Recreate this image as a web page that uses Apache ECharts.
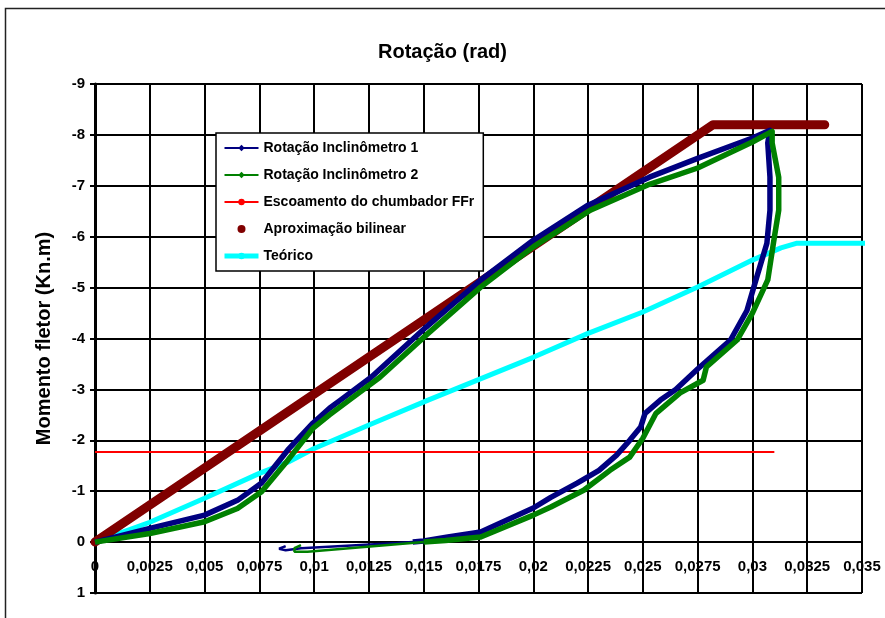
<!DOCTYPE html>
<html>
<head>
<meta charset="utf-8">
<script src="https://cdn.jsdelivr.net/npm/echarts@6/dist/echarts.min.js"></script>
<style>
  html, body { margin: 0; padding: 0; background: #fff; }
  #chart { width: 885px; height: 618px; }
</style>
</head>
<body>
<div id="chart"></div>
<script>
// Rotation (rad) vs bending moment (kN.m)
const xTickLabels = ['0', '0,0025', '0,005', '0,0075', '0,01', '0,0125', '0,015', '0,0175',
  '0,02', '0,0225', '0,025', '0,0275', '0,03', '0,0325', '0,035'];
const yTickLabels = ['-9', '-8', '-7', '-6', '-5', '-4', '-3', '-2', '-1', '0', '1'];

// Inclinometer 1: loading, unloading, final jump
const incl1 = [
  [0, 0], [0.0025, -0.27], [0.005, -0.53], [0.0065, -0.82], [0.0076, -1.16], [0.0088, -1.81],
  [0.00995, -2.34], [0.0107, -2.63], [0.0112, -2.79], [0.0126, -3.24], [0.0151, -4.22],
  [0.0176, -5.15], [0.0200, -5.93], [0.0225, -6.62], [0.0253, -7.17], [0.0275, -7.54],
  [0.0300, -7.94], [0.0308, -8.09],
  [0.0307, -7.84], [0.0308, -7.17], [0.0308, -6.52], [0.03066, -5.87], [0.0302, -5.21],
  [0.02975, -4.55], [0.0290, -3.97], [0.0275, -3.40], [0.0265, -3.0], [0.0258, -2.79],
  [0.0251, -2.53], [0.0249, -2.26], [0.0244, -2.0], [0.0238, -1.71], [0.0230, -1.41],
  [0.0220, -1.16], [0.0208, -0.88], [0.0200, -0.67], [0.0176, -0.2], [0.0161, -0.1],
  [0.0150, -0.02], [0.0145, 0.0]
];
const incl1Tail = [[0.0145, 0.0], [0.0138, 0.02], [0.0094, 0.12], [0.0087, 0.16], [0.0084, 0.13], [0.0087, 0.08]];

// Inclinometer 2
const incl2 = [
  [0, 0], [0.0025, -0.17], [0.005, -0.4], [0.0065, -0.66], [0.0076, -0.99], [0.0088, -1.61],
  [0.00995, -2.24], [0.0107, -2.5], [0.0116, -2.79], [0.013, -3.24], [0.0152, -4.1],
  [0.0176, -5.01], [0.0200, -5.8], [0.0226, -6.52], [0.0253, -7.03], [0.0275, -7.35],
  [0.0300, -7.86], [0.0309, -8.07],
  [0.0309, -7.84], [0.0312, -7.17], [0.0312, -6.52], [0.0310, -5.99], [0.0307, -5.15],
  [0.0300, -4.5], [0.0293, -3.97], [0.0279, -3.44], [0.02775, -3.18], [0.0267, -2.93],
  [0.0256, -2.53], [0.0250, -2.04], [0.0244, -1.67], [0.0235, -1.41], [0.0223, -1.02],
  [0.0208, -0.69], [0.0200, -0.53], [0.0176, -0.1], [0.0160, -0.03], [0.0150, 0.0]
];
const incl2Tail = [[0.0150, 0.0], [0.0097, 0.19], [0.0091, 0.19], [0.0091, 0.12], [0.0094, 0.06]];

// Anchor bolt yield moment
const yieldLine = [[0, -1.77], [0.0310, -1.77]];
// Bilinear approximation
const bilinear = [[0, 0], [0.0282, -8.2], [0.0333, -8.2]];
// Theoretical curve
const theory = [
  [0, 0], [0.0025, -0.39], [0.005, -0.86], [0.0075, -1.35], [0.0088, -1.57], [0.01, -1.84],
  [0.0125, -2.3], [0.0152, -2.79], [0.02, -3.63], [0.0225, -4.1], [0.025, -4.52],
  [0.0275, -5.01], [0.03, -5.54], [0.0313, -5.78], [0.032, -5.87], [0.0352, -5.87]
];

const names = ['Rotação Inclinômetro 1', 'Rotação Inclinômetro 2',
  'Escoamento do chumbador FFr', 'Aproximação bilinear', 'Teórico'];

const FONT = '"Liberation Sans", Arial, sans-serif';
const chart = echarts.init(document.getElementById('chart'), null, { renderer: 'canvas' });

chart.setOption({
  backgroundColor: '#ffffff',
  animation: false,
  title: {
    text: 'Rotação (rad)',
    left: 'center',
    top: 37,
    textStyle: { fontFamily: FONT, fontWeight: 'bold', fontSize: 20, color: '#000' }
  },
  graphic: [{
    type: 'rect',
    shape: { x: 5.5, y: 8.5, width: 1000, height: 1000 },
    style: { fill: 'none', stroke: '#222', lineWidth: 1.5 },
    silent: true,
    z: -1
  }],
  legend: {
    orient: 'vertical',
    left: 216,
    top: 133,
    padding: [7, 9, 7, 6],
    itemWidth: 34,
    itemHeight: 8,
    itemGap: 11,
    backgroundColor: '#fff',
    borderColor: '#000',
    borderWidth: 1.5,
    borderRadius: 0,
    textStyle: { fontFamily: FONT, fontWeight: 'bold', fontSize: 14, color: '#000', lineHeight: 16 },
    lineStyle: { width: 2 },
    data: [
      { name: names[0] },
      { name: names[1] },
      { name: names[2] },
      { name: names[3], icon: 'circle' },
      { name: names[4], lineStyle: { width: 5 } }
    ]
  },
  grid: { left: 95, right: 23, top: 84, bottom: 25, containLabel: false, outerBoundsMode: 'none' },
  xAxis: {
    type: 'value',
    min: 0,
    max: 0.035,
    interval: 0.0025,
    axisLine: { onZero: true, lineStyle: { color: '#000', width: 2 } },
    axisTick: { show: false },
    axisLabel: {
      inside: true,
      margin: 19,
      color: '#000',
      fontFamily: FONT,
      fontWeight: 'bold',
      fontSize: 15,
      formatter: v => xTickLabels[Math.round(v / 0.0025)]
    },
    splitLine: { show: true, lineStyle: { color: '#000', width: 2 } }
  },
  yAxis: {
    type: 'value',
    inverse: true,
    min: -9,
    max: 1,
    interval: 1,
    name: 'Momento fletor (Kn.m)',
    nameLocation: 'middle',
    nameRotate: 90,
    nameGap: 41,
    nameTextStyle: { fontFamily: FONT, fontWeight: 'bold', fontSize: 20, color: '#000' },
    axisLine: { onZero: false, lineStyle: { color: '#000', width: 3 } },
    axisTick: { show: true, length: 5, lineStyle: { color: '#000', width: 2 } },
    axisLabel: {
      margin: 10,
      color: '#000',
      fontFamily: FONT,
      fontWeight: 'bold',
      fontSize: 15,
      formatter: v => yTickLabels[Math.round(v + 9)]
    },
    splitLine: { show: true, lineStyle: { color: '#000', width: 2 } }
  },
  series: [
    {
      name: names[0], type: 'line', data: incl1, symbol: 'diamond', showSymbol: false,
      lineStyle: { color: '#000080', width: 5.5, join: 'round' }, itemStyle: { color: '#000080' }, z: 4
    },
    {
      name: names[1], type: 'line', data: incl2, symbol: 'diamond', showSymbol: false,
      lineStyle: { color: '#008000', width: 5.5, join: 'round' }, itemStyle: { color: '#008000' }, z: 5
    },
    {
      name: names[0], type: 'line', data: incl1Tail, symbol: 'none',
      lineStyle: { color: '#000080', width: 2.5 }, itemStyle: { color: '#000080' }, z: 4
    },
    {
      name: names[1], type: 'line', data: incl2Tail, symbol: 'none',
      lineStyle: { color: '#008000', width: 2.5 }, itemStyle: { color: '#008000' }, z: 5
    },
    {
      name: names[2], type: 'line', data: yieldLine, symbol: 'circle', showSymbol: false,
      lineStyle: { color: '#ff0000', width: 2 }, itemStyle: { color: '#ff0000' }, z: 3
    },
    {
      name: names[3], type: 'line', data: bilinear, symbol: 'circle', showSymbol: false,
      lineStyle: { color: '#800000', width: 9, cap: 'round', join: 'round' },
      itemStyle: { color: '#800000' }, z: 3
    },
    {
      name: names[4], type: 'line', data: theory, symbol: 'none', clip: false,
      lineStyle: { color: '#00ffff', width: 5 }, itemStyle: { color: '#00ffff' }, z: 2
    }
  ]
});
</script>
</body>
</html>
